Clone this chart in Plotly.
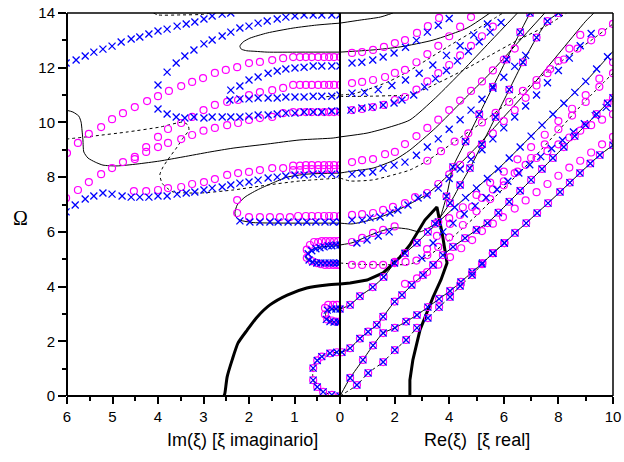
import plotly.graph_objects as go

# ================= LEFT HALF : Im(xi) =================
B1_IM = [6.02,5.80,5.60,5.41,5.21,5.01,4.81,4.59,4.40,4.20,4.00,3.80,3.58,3.38,3.19,2.99,2.81,2.59,2.40]
B1_OM = [12.17,12.28,12.43,12.57,12.68,12.79,12.94,13.05,13.12,13.23,13.34,13.41,13.52,13.60,13.67,13.78,13.89,13.96,14.0]
B2_IM = [4.0,3.80,3.60,3.41,3.21,2.99,2.81,2.59,2.40,2.20,2.00,1.80,1.60,1.38,1.19,0.99,0.79,0.59,0.40,0.18,0.0]
B2_OM = [11.37,11.84,12.17,12.43,12.65,12.87,13.01,13.16,13.30,13.45,13.52,13.63,13.71,13.78,13.85,13.89,13.93,13.93,13.93,13.93,13.93]
B3_IM = [4.0,3.80,3.60,3.41,3.21,2.99,2.81,2.59,2.40,2.20,2.00,1.80,1.58,1.38,1.19,0.99,0.79,0.59,0.40,0.18,0.0]
B3_OM = [10.49,10.31,10.20,10.16,10.20,10.16,10.20,10.20,10.20,10.20,10.23,10.27,10.27,10.31,10.34,10.34,10.38,10.38,10.38,10.42,10.42]
B4_IM = [2.4,2.2,2.0,1.8,1.58,1.38,1.19,0.99,0.79,0.59,0.4,0.18,0.0]
B4_OM = [11.18,11.33,11.55,11.66,11.80,11.88,11.95,11.99,12.02,12.06,12.06,12.06,12.06]
B5_IM = [2.42,2.2,2.0,1.8,1.58,1.38,1.19,0.99,0.79,0.59,0.4,0.18,0.0]
B5_OM = [10.82,10.86,10.86,10.89,10.89,10.89,10.93,10.93,10.93,10.96,10.96,10.96,11.0]
B6_IM = [6.02,5.82,5.6,5.41,5.21,5.01,4.79,4.59,4.4,4.2,4.0,3.8,3.58,3.38,3.19,2.99,2.81,2.59,2.4,2.2,2.0,1.8,1.58,1.38,1.19,0.99,0.79,0.59,0.4,0.18,0.0]
B6_OM = [6.73,6.98,7.20,7.31,7.42,7.38,7.31,7.27,7.27,7.27,7.31,7.31,7.38,7.42,7.46,7.53,7.60,7.64,7.71,7.78,7.82,7.89,7.97,8.0,8.04,8.08,8.08,8.11,8.11,8.11,8.11]
B7_IM = [2.2,1.98,1.76,1.54,1.36,1.14,0.92,0.73,0.53,0.33,0.15,0.0]
B7_OM = [6.40,6.36,6.36,6.36,6.36,6.36,6.36,6.36,6.36,6.36,6.36,6.36]
B8_IM = [0.70,0.62,0.53,0.44,0.35,0.26,0.18,0.09,0.0]
B8_OM = [5.20,5.31,5.38,5.42,5.45,5.49,5.49,5.52,5.52]
B9_IM = [0.68,0.60,0.51,0.42,0.33,0.24,0.15,0.07,0.0]
B9_OM = [4.97,4.90,4.86,4.86,4.86,4.86,4.86,4.86,4.86]
B10_IM = [0.28,0.18,0.09,0.0]
B10_OM = [3.14,3.18,3.18,3.18]
B11_IM = [0.30,0.22,0.13,0.04,0.0]
B11_OM = [2.80,2.72,2.70,2.70,2.70]
B12_IM = [0.0,0.18,0.37,0.50,0.59,0.59,0.50,0.40,0.22,0.07]
B12_OM = [0.0,0.04,0.15,0.33,0.58,1.02,1.30,1.44,1.56,1.60]

P1_IM = [6.0,5.76,5.52,5.25,5.01,4.77,4.51,4.24,4.0,3.76,3.49,3.25,3.01,2.75,2.51,2.26,2.0,1.76,1.49,1.25,1.03,0.88,0.75,0.62,0.48,0.35,0.24,0.13,0.0]
P1_OM = [8.88,9.25,9.58,9.83,10.12,10.34,10.56,10.78,10.96,11.15,11.33,11.48,11.62,11.81,11.92,12.02,12.17,12.21,12.28,12.35,12.39,12.39,12.39,12.39,12.39,12.39,12.39,12.39,12.39]
P2_IM = [4.26,4.0,3.78,3.49,3.25,3.0,2.75,2.48,2.24,2.0,1.76,1.49,1.25,1.03,0.88,0.75,0.62,0.48,0.35,0.24,0.13,0.0]
P2_OM = [9.10,9.47,9.76,9.98,10.20,10.45,10.64,10.75,10.82,11.0,11.11,11.18,11.26,11.37,11.37,11.37,11.37,11.37,11.37,11.37,11.37,11.37]
P3_IM = [6.02,5.76,5.52,5.25,5.01,4.77,4.51,4.51]
P3_OM = [7.24,7.53,7.82,8.11,8.33,8.55,8.74,8.66]
P4_IM = [4.26,4.0,3.78,3.49,3.25,3.0,2.75,2.48,2.24,2.0,1.76,1.49,1.25,1.03,0.88,0.75,0.62,0.48,0.35,0.24,0.13,0.0]
P4_OM = [8.92,9.10,9.25,9.39,9.54,9.70,9.80,9.90,9.98,10.09,10.16,10.20,10.34,10.38,10.38,10.38,10.38,10.38,10.38,10.38,10.38,10.38]
P5_IM = [4.53,4.26,4.0,3.78,3.49,3.25,2.99,2.75,2.48,2.24,2.0,1.76,1.49,1.25,1.03,0.88,0.75,0.62,0.48,0.35,0.24,0.13,0.0]
P5_OM = [7.49,7.49,7.53,7.60,7.64,7.75,7.82,7.93,8.08,8.15,8.19,8.26,8.33,8.33,8.42,8.42,8.44,8.44,8.44,8.44,8.44,8.44,8.44]
P6_IM = [1.03,0.88,0.75,0.62,0.48,0.35,0.24,0.13,0.0]
P6_OM = [8.26,8.26,8.29,8.29,8.29,8.29,8.29,8.29,8.29]
P7_IM = [2.26,2.26,2.0,1.76,1.54,1.32,1.10,0.92,0.75,0.62,0.48,0.35,0.24,0.13,0.0]
P7_OM = [7.16,6.69,6.54,6.54,6.54,6.54,6.54,6.58,6.58,6.58,6.58,6.58,6.58,6.58,6.58]
P8_IM = [0.73,0.66,0.57,0.48,0.40,0.31,0.22,0.13,0.04]
P8_OM = [5.35,5.52,5.63,5.63,5.66,5.66,5.66,5.66,5.66]
P9_IM = [0.73,0.62,0.51,0.42,0.33,0.24,0.15,0.07,0.0]
P9_OM = [5.05,4.93,4.86,4.82,4.79,4.79,4.79,4.79,4.79]
P10_IM = [0.33,0.26,0.15,0.07]
P10_OM = [3.22,3.33,3.33,3.33]
P11_IM = [0.33,0.28,0.18,0.09,0.0]
P11_OM = [2.98,2.80,2.76,2.72,2.72]

L1_IM = [6.02,5.87,5.74,5.69,5.67,5.65,5.63,5.54,5.38,5.21,4.90,4.46,3.96,3.45,2.86,2.35,1.60,0.88,0.15,0.0]
L1_OM = [10.45,10.38,10.23,10.01,9.72,9.36,8.92,8.70,8.55,8.44,8.41,8.48,8.59,8.74,8.92,9.06,9.21,9.36,9.43,9.47]
L2_IM = [0.0,0.51,1.03,1.60,1.98,2.13,2.20,2.17,2.05,1.87,1.60,0.88,0.0]
L2_OM = [13.63,13.56,13.45,13.27,13.08,12.94,12.79,12.68,12.62,12.60,12.57,12.57,12.57]
D1_IM = [6.02,5.43,4.68,3.96,3.45,3.34,3.32,3.45,3.58,3.74,3.89,3.96,3.91,3.80,3.67,3.08,2.35,1.60,0.88,0.0]
D1_OM = [9.39,9.50,9.65,9.83,10.01,9.90,9.72,9.43,9.10,8.74,8.37,8.08,7.78,7.60,7.46,7.42,7.53,7.71,7.86,7.97]
D2_IM = [4.1,4.0,3.5,3.0,2.85]
D2_OM = [14.0,13.93,13.93,13.95,14.0]
D4_IM = [0.30,0.15,0.0]
D4_OM = [10.94,10.97,11.0]
L3_IM = [0.0,0.73,1.16,1.49,1.82,2.09,2.26,2.31,2.29,2.2,1.91,1.25,0.0]
L3_OM = [8.15,8.11,8.0,7.78,7.53,7.27,6.98,6.69,6.55,6.43,6.34,6.32,6.32]
L4_IM = [0.0,0.40,0.62,0.73,0.75,0.70,0.55,0.30,0.0]
L4_OM = [5.50,5.45,5.35,5.20,5.05,4.95,4.90,4.88,4.86]
L5_IM = [0.0,0.18,0.30,0.32,0.30,0.18,0.0]
L5_OM = [3.18,3.16,3.08,2.95,2.80,2.72,2.70]
D3_IM = [0.0,0.18,0.37,0.50,0.59,0.60,0.59,0.50,0.40,0.22,0.07,0.0]
D3_OM = [0.0,0.04,0.15,0.33,0.58,0.80,1.02,1.30,1.44,1.56,1.60,1.62]
T_IM = [2.55,2.53,2.48,2.37,2.24,2.04,1.82,1.54,1.16,0.73,0.29,0.0]
T_OM = [0.0,0.1,0.7,1.32,1.94,2.41,2.89,3.33,3.69,3.95,4.06,4.09]

# ================= RIGHT HALF : Re(xi) =================
A_RE = [0,0.37,0.84,1.21,1.58,2.01,2.42,2.82,3.22,3.63,4.03,4.43,4.84,5.22,5.6,6.02,6.41,6.82,7.22,7.62,8.06,8.42,8.79,9.17,9.52,10.0]
A_OM = [0,0.66,1.32,1.85,2.3,2.49,2.72,2.96,3.25,3.55,3.84,4.17,4.53,4.86,5.22,5.59,5.96,6.32,6.69,7.05,7.46,7.80,8.15,8.50,8.81,9.17]
AD_RE = [0,0.62,1.03,1.58,2.01,2.42,2.82,3.22,3.63,4.03,4.40,4.84,5.20,5.60,6.02]
AD_OM = [0,0.40,0.84,1.24,1.68,2.05,2.49,2.85,3.25,3.62,4.02,4.42,4.82,5.22,5.59]
RB_RE = [0,0.37,0.73,1.2,1.6,2.0,2.38,2.82,3.22,3.6,3.9,4.14,4.6,5.1,5.6,6.1,6.6,6.96]
RB_OM = [3.18,3.33,3.65,3.98,4.35,4.86,5.22,5.6,6.0,6.36,7.3,8.37,9.3,10.3,11.3,12.3,13.3,14.0]
RF_RE = [3.6,4.2,5.0,6.0,7.0,8.0,9.0,10.0]
RF_OM = [6.36,6.9,7.6,8.5,9.5,10.5,11.5,12.6]
RC_RE = [0.07,0.37,0.73,1.03,1.35,1.58,2.0,2.27,2.63,3.04,3.41,3.77,4.14,4.58,5.0,5.4,5.8,6.2,6.6,7.0,7.4,7.8,8.2,8.6,9.0,9.4,9.8,10.0]
RC_OM = [1.60,1.75,2.10,2.35,2.60,2.90,3.45,3.69,4.06,4.42,4.79,5.15,5.45,5.77,6.07,6.32,6.7,7.1,7.5,7.9,8.3,8.7,9.1,9.5,9.9,10.3,10.7,10.9]
RS2_RE = [0,0.44,0.81,1.21,1.58,2.0,2.5,2.93,3.48,4.03,4.4,4.76,5.2,5.7,6.2,6.7,7.2,7.6,8.0]
RS2_OM = [5.52,5.6,5.75,5.92,6.05,6.15,6.1,6.0,6.3,7.05,7.71,8.33,9.2,10.2,11.2,12.2,13.1,13.7,14.0]
RT_RE = [0,0.37,0.99,1.58,2.2,2.56,3.11,3.55,3.75,3.92,3.70,3.41,2.93,2.67,2.56,2.56]
RT_OM = [4.09,4.13,4.24,4.5,5.08,5.52,6.43,6.91,5.9,4.86,4.25,3.62,2.41,1.32,0.58,0.0]
RL1_RE = [0,0.99,1.72,2.56,3.5,4.5,5.5,6.5]
RL1_OM = [9.47,9.61,9.80,10.09,10.9,11.9,12.95,14.0]
RL2_RE = [0,0.73,1.47,1.94]
RL2_OM = [13.63,13.74,13.85,14.0]
RL3_RE = [0,1.21,2.2,3.41,4.65,5.49]
RL3_OM = [12.57,12.65,12.76,13.01,13.45,14.0]
RL4_RE = [0,0.44,1.21,2.0,2.56,3.5,4.5,5.5,6.5,7.5]
RL4_OM = [8.15,8.22,8.33,8.63,8.99,9.8,10.8,11.8,12.9,14.0]
RL5_RE = [0,0.44,1.1,1.47,2.12,3.19,4.0,5.0,6.0,7.0,8.0,9.0,9.3]
RL5_OM = [6.32,6.29,6.43,6.54,6.80,7.38,8.1,9.1,10.2,11.3,12.5,13.7,14.0]
DR1_RE = [0,0.37,1.21,2.2,2.56,3.2,4.2,5.2,6.2,7.2,8.2,9.2,10.0]
DR1_OM = [7.97,7.86,7.9,8.15,8.26,8.6,9.3,10.0,10.75,11.55,12.3,13.0,13.6]
DR2_RE = [0,0.6,1.2,1.8,2.56,3.2,4.0,5.0,6.0,7.0,8.0,9.0,10.0]
DR2_OM = [4.86,4.82,4.8,4.8,4.82,5.1,5.7,6.6,7.6,8.6,9.7,10.8,11.8]
DR3_RE = [0,0.5,1.0,1.8,2.56,3.2,4.0,5.0,5.97]
DR3_OM = [11.0,11.05,11.2,11.5,11.9,12.3,12.8,13.4,14.0]
DR4_RE = [0,0.6,1.2,1.9,2.56,3.5,4.5,5.5,6.5,7.5,8.3]
DR4_OM = [10.95,10.95,10.96,10.98,11.0,11.4,11.9,12.45,13.0,13.5,14.0]

RP1_RE = [0.44,0.81,1.21,1.61,2.01,2.38,2.82,3.22,3.63]
RP1_OM = [12.54,12.57,12.65,12.76,12.9,13.01,13.27,13.52,13.82]
RP2_RE = [0.44,0.81,1.21,1.65,2.01,2.38,2.8,3.2,3.6,4.0,4.4,4.8]
RP2_OM = [11.44,11.48,11.55,11.66,11.81,11.92,12.2,12.5,12.8,13.15,13.5,13.85]
RP4_RE = [0.44,0.81,1.21,1.61,2.01,2.38,2.8,3.2,3.6,4.0,4.4,4.8,5.2,5.6]
RP4_OM = [10.45,10.49,10.56,10.64,10.82,10.93,11.2,11.5,11.8,12.1,12.45,12.8,13.15,13.5]
RP5_RE = [0.44,0.81,1.21,1.65,2.01,2.38,2.8,3.2,3.6,4.0,4.4,4.8,5.2,5.6,6.0,6.4]
RP5_OM = [8.55,8.62,8.66,8.84,8.92,9.21,9.5,9.8,10.1,10.45,10.8,11.15,11.5,11.9,12.3,12.7]
RP7_RE = [0.44,0.81,1.21,1.58,1.94,2.38,2.75,3.19,3.6,4.0,4.4,4.8,5.2,5.6,6.0,6.4,6.8,7.2,7.6,8.0,8.4,8.8]
RP7_OM = [6.62,6.65,6.69,6.8,6.91,7.05,7.27,7.42,7.75,8.1,8.45,8.8,9.2,9.6,10.05,10.45,10.9,11.35,11.8,12.25,12.7,13.2]
RP8_RE = [0.44,0.81,1.21,1.58,2.0]
RP8_OM = [5.63,5.78,5.96,6.07,6.2]
RP9_RE = [0.44,0.81,1.21,1.58,2.0]
RP9_OM = [4.79,4.79,4.79,4.79,4.9]
RPO1_RE = [3.19,3.55,4.03,4.4,4.84,5.2,5.6,6.0,6.4,6.8,7.2,7.6,8.0,8.4,8.8,9.2,9.6,10.0]
RPO1_OM = [5.37,5.85,6.29,6.62,6.91,7.24,7.55,7.85,8.15,8.45,8.7,8.95,9.2,9.45,9.7,9.9,10.1,10.3]
RPO2_RE = [2.38,2.82,3.19,3.6,4.03,4.44,4.84,5.2,5.6,5.97,6.4,6.8,7.2,7.6,8.0,8.4,8.8,9.2,9.6,10.0]
RPO2_OM = [4.1,4.3,4.53,4.8,5.08,5.4,5.7,6.03,6.3,6.54,6.85,7.15,7.45,7.75,8.05,8.35,8.6,8.9,9.2,9.47]
RPO4_RE = [4.0,4.5,5.0,5.5,6.0,6.5,7.0,7.5,8.0,8.5,9.0,9.5,10.0]
RPO4_OM = [6.5,6.9,7.35,7.8,8.2,8.65,9.1,9.55,10.05,10.5,11.0,11.6,12.2]
RPO5_RE = [3.2,3.7,4.2,4.7,5.2,5.7,6.2,6.7,7.2,7.7,8.2,8.7,9.2,9.6,10.0]
RPO5_OM = [8.6,8.95,9.3,9.6,10.0,10.35,10.75,11.15,11.55,11.95,12.3,12.7,13.0,13.3,13.6]
RPO6_RE = [2.4,2.8,3.2,3.6,4.0,4.5,5.0,5.5,6.0,6.5,7.0,7.5,8.0,8.5,9.0,9.5,10.0]
RPO6_OM = [4.9,4.95,5.15,5.45,5.8,6.25,6.75,7.2,7.7,8.2,8.7,9.2,9.75,10.25,10.75,11.3,11.8]

RB3_RE = [0.4,0.8,1.17,1.58,1.98,2.27,2.7,3.1,3.5,3.9,4.3,4.7,5.1,5.5,5.9]
RB3_OM = [10.45,10.53,10.56,10.64,10.71,10.82,11.0,11.3,11.6,11.9,12.25,12.6,12.95,13.3,13.65]
RB4_RE = [0.44,0.8,1.2,1.58,1.98,2.4,2.8,3.2,3.6,4.0]
RB4_OM = [12.17,12.2,12.28,12.39,12.54,12.75,13.0,13.3,13.55,13.8]
RB5_RE = [0.44,0.9,1.4,1.9,2.4,2.9,3.4,3.9,4.4,4.9,5.4]
RB5_OM = [11.07,11.1,11.2,11.35,11.55,11.8,12.1,12.45,12.8,13.2,13.6]
RB6_RE = [0.44,0.8,1.2,1.58,1.98,2.38,2.8,3.2,3.6,4.0,4.4,4.8,5.2,5.6,6.0,6.4,6.8]
RB6_OM = [8.11,8.15,8.19,8.33,8.44,8.55,8.8,9.1,9.4,9.75,10.1,10.45,10.85,11.25,11.65,12.05,12.45]
RB7_RE = [0.44,0.81,1.1,1.47,1.83,2.12,2.49,2.86,3.19,3.6,4.0,4.4,4.8,5.2,5.6,6.0,6.4,6.8,7.2,7.6,8.0,8.4,8.8,9.2]
RB7_OM = [6.43,6.43,6.51,6.54,6.69,6.8,6.98,7.24,7.35,7.6,7.95,8.3,8.65,9.0,9.4,9.8,10.2,10.6,11.0,11.45,11.9,12.35,12.8,13.25]
RB8_RE = [0.62,0.99,1.4,1.8]
RB8_OM = [5.59,5.7,5.85,6.0]
RBX1_RE = [3.0,3.41,3.77,4.14,4.55,4.95,5.35,5.75,6.15,6.55,6.95,7.35,7.75,8.15,8.55,8.95,9.35,9.75]
RBX1_OM = [5.04,5.59,6.0,6.32,6.65,6.95,7.25,7.55,7.85,8.15,8.45,8.75,9.05,9.35,9.65,9.95,10.25,10.55]
RBX4_RE = [4.2,4.6,5.0,5.4,5.8,6.2,6.6,7.0,7.4,7.8,8.2,8.6,9.0,9.4,9.8]
RBX4_OM = [6.9,7.25,7.6,7.95,8.3,8.7,9.1,9.5,9.9,10.3,10.7,11.1,11.5,11.95,12.4]

fig = go.Figure()
MAG = '#FF00FF'
BLU = '#0000FF'

def add_line(x, y, xa, dash='solid', width=1.0, shape='spline'):
    fig.add_trace(go.Scatter(x=x, y=y, xaxis=xa, yaxis='y', mode='lines',
                             line=dict(color='black', width=width, dash=dash, shape=shape, smoothing=0.6),
                             hoverinfo='skip', showlegend=False))

def add_circ(x, y, xa):
    fig.add_trace(go.Scatter(x=x, y=y, xaxis=xa, yaxis='y', mode='markers',
                             marker=dict(symbol='circle-open', size=7, color=MAG, line=dict(width=1.2, color=MAG)),
                             hoverinfo='skip', showlegend=False))

def add_x(x, y, xa):
    fig.add_trace(go.Scatter(x=x, y=y, xaxis=xa, yaxis='y', mode='markers',
                             marker=dict(symbol='x-thin-open', size=7, color=BLU, line=dict(width=1.3, color=BLU)),
                             hoverinfo='skip', showlegend=False))

for xx, yy in [(L1_IM, L1_OM), (L2_IM, L2_OM), (L3_IM, L3_OM), (L4_IM, L4_OM), (L5_IM, L5_OM)]:
    add_line(xx, yy, 'x')
for xx, yy in [(D1_IM, D1_OM), (D2_IM, D2_OM), (D3_IM, D3_OM), (D4_IM, D4_OM)]:
    add_line(xx, yy, 'x', dash='dot')
add_line(T_IM, T_OM, 'x', width=3)

for xx, yy in [(A_RE, A_OM), (RB_RE, RB_OM), (RF_RE, RF_OM), (RC_RE, RC_OM), (RS2_RE, RS2_OM),
               (RL1_RE, RL1_OM), (RL2_RE, RL2_OM), (RL3_RE, RL3_OM), (RL4_RE, RL4_OM), (RL5_RE, RL5_OM)]:
    add_line(xx, yy, 'x2')
for xx, yy in [(AD_RE, AD_OM), (DR1_RE, DR1_OM), (DR2_RE, DR2_OM), (DR3_RE, DR3_OM), (DR4_RE, DR4_OM)]:
    add_line(xx, yy, 'x2', dash='dot')
add_line(RT_RE, RT_OM, 'x2', width=3, shape='linear')

for xx, yy in [(P1_IM, P1_OM), (P2_IM, P2_OM), (P3_IM, P3_OM), (P4_IM, P4_OM), (P5_IM, P5_OM), (P6_IM, P6_OM),
               (P7_IM, P7_OM), (P8_IM, P8_OM), (P9_IM, P9_OM), (P10_IM, P10_OM), (P11_IM, P11_OM), (B12_IM, B12_OM)]:
    add_circ(xx, yy, 'x')
for xx, yy in [(B1_IM, B1_OM), (B2_IM, B2_OM), (B3_IM, B3_OM), (B4_IM, B4_OM), (B5_IM, B5_OM), (B6_IM, B6_OM),
               (B7_IM, B7_OM), (B8_IM, B8_OM), (B9_IM, B9_OM), (B10_IM, B10_OM), (B11_IM, B11_OM), (B12_IM, B12_OM)]:
    add_x(xx, yy, 'x')

for xx, yy in [(RP1_RE, RP1_OM), (RP2_RE, RP2_OM), (RP4_RE, RP4_OM), (RP5_RE, RP5_OM), (RP7_RE, RP7_OM),
               (RP8_RE, RP8_OM), (RP9_RE, RP9_OM), (RPO1_RE, RPO1_OM), (RPO2_RE, RPO2_OM), (RPO4_RE, RPO4_OM),
               (RPO5_RE, RPO5_OM), (RPO6_RE, RPO6_OM)]:
    add_circ(xx, yy, 'x2')
for xx, yy in [(RB3_RE, RB3_OM), (RB4_RE, RB4_OM), (RB5_RE, RB5_OM), (RB6_RE, RB6_OM), (RB7_RE, RB7_OM),
               (RB8_RE, RB8_OM), (RBX1_RE, RBX1_OM), (RBX4_RE, RBX4_OM)]:
    add_x(xx, yy, 'x2')
for xx, yy in [(A_RE[1:], A_OM[1:]), (AD_RE[1:], AD_OM[1:]), (RB_RE, RB_OM), (RC_RE, RC_OM), (RS2_RE[8:], RS2_OM[8:])]:
    add_circ(xx, yy, 'x2')
    add_x(xx, yy, 'x2')

FONT = 'Liberation Sans, Arial, sans-serif'
YT = [0, 2, 4, 6, 8, 10, 12, 14]
def ax(**kw):
    d = dict(showline=False, showgrid=False, zeroline=False, automargin=False,
             tickcolor='black', tickwidth=1.5, tickfont=dict(family=FONT, size=15, color='black'))
    d.update(kw)
    return d
def mn(t, l, dt):
    return dict(ticks=t, ticklen=l, dtick=dt, tickcolor='black', tickwidth=1.5, showgrid=False)

frame = []
for (x0, y0, x1, y1, w) in [(0, 0, 0, 1, 2), (0.5, 0, 0.5, 1, 2), (1, 0, 1, 1, 1.5), (0, 0, 1, 0, 2), (0, 1, 1, 1, 1.5)]:
    frame.append(dict(type='line', xref='paper', yref='paper', x0=x0, y0=y0, x1=x1, y1=y1,
                      line=dict(color='black', width=w), layer='above'))

fig.update_layout(
    template='none',
    width=624, height=462, margin=dict(l=67, r=11, t=13, b=66, autoexpand=False),
    paper_bgcolor='white', plot_bgcolor='rgba(0,0,0,0)', showlegend=False,
    xaxis=ax(domain=[0, 0.5], range=[6, 0], anchor='y', tickmode='array', tickvals=[0,1,2,3,4,5,6],
             ticks='outside', ticklen=7, minor=mn('outside', 4, 0.5)),
    xaxis2=ax(domain=[0.5, 1], range=[0, 10], anchor='y', tickmode='array', tickvals=[0,2,4,6,8,10],
              ticktext=['', '2', '4', '6', '8', '10'], ticks='outside', ticklen=7, minor=mn('outside', 4, 1)),
    xaxis3=ax(overlaying='x', side='top', range=[6, 0], anchor='y', tickmode='array', tickvals=[0,1,2,3,4,5,6],
              showticklabels=False, ticks='inside', ticklen=7, minor=mn('inside', 4, 0.5)),
    xaxis4=ax(overlaying='x2', side='top', range=[0, 10], anchor='y', tickmode='array', tickvals=[0,2,4,6,8,10],
              showticklabels=False, ticks='inside', ticklen=7, minor=mn('inside', 4, 1)),
    yaxis=ax(range=[0, 14], anchor='x', tickmode='array', tickvals=YT, ticks='outside', ticklen=8,
             minor=mn('outside', 4, 1)),
    yaxis2=ax(overlaying='y', range=[0, 14], anchor='x', side='left', tickmode='array', tickvals=YT,
              showticklabels=False, ticks='inside', ticklen=8, minor=mn('inside', 4, 1)),
    yaxis3=ax(overlaying='y', range=[0, 14], anchor='x2', side='left', tickmode='array', tickvals=YT,
              showticklabels=False, ticks='outside', ticklen=8, minor=mn('outside', 4, 1)),
    yaxis4=ax(overlaying='y', range=[0, 14], anchor='x2', side='left', tickmode='array', tickvals=YT,
              showticklabels=False, ticks='inside', ticklen=8, minor=mn('inside', 4, 1)),
    yaxis5=ax(overlaying='y', range=[0, 14], anchor='x2', side='right', tickmode='array', tickvals=YT,
              showticklabels=False, ticks='inside', ticklen=7, minor=mn('inside', 4, 1)),
    shapes=frame,
    annotations=[
        dict(text='Ω', xref='paper', yref='paper', x=-0.086, y=0.465, xanchor='center', yanchor='middle',
             showarrow=False, font=dict(family='Liberation Serif, serif', size=20, color='black')),
        dict(text='Im(ξ) [ξ imaginario]', xref='paper', yref='paper', x=0.322, y=-0.115, xanchor='center',
             yanchor='middle', showarrow=False, font=dict(family=FONT, size=18, color='black')),
        dict(text='Re(ξ) \u00a0[ξ real]', xref='paper', yref='paper', x=0.751, y=-0.115, xanchor='center',
             yanchor='middle', showarrow=False, font=dict(family=FONT, size=18, color='black')),
    ],
)

fig.write_html('out.html', config={'displayModeBar': False},
               post_script="document.body.style.margin='0px';document.body.style.padding='0px';")
